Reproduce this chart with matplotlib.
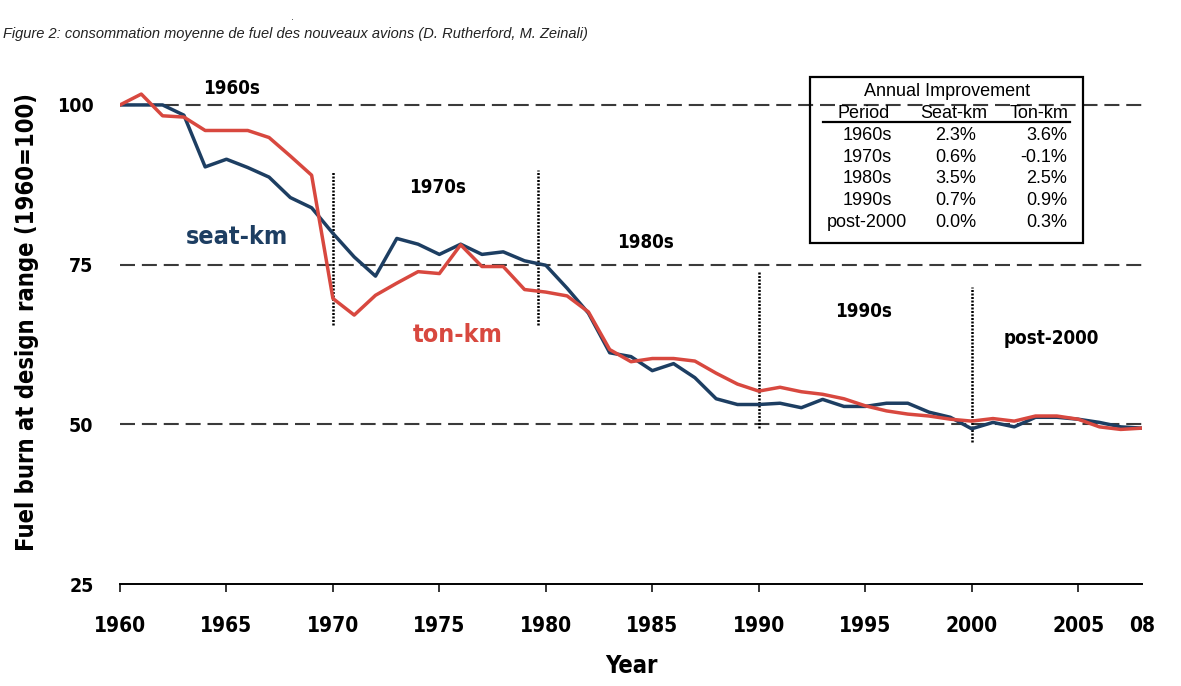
import numpy as np
import matplotlib.pyplot as plt
from matplotlib.patches import Rectangle

# Données (indice 1960 = 100)
years = list(range(1960, 2009))
seat_km = [100.0, 100.0, 100.0, 98.4, 90.3, 91.5, 90.2, 88.7, 85.5, 83.9,
           79.9, 76.2, 73.2, 79.1, 78.2, 76.6, 78.2, 76.6, 77.0, 75.6,
           74.9, 71.3, 67.4, 61.2, 60.6, 58.4, 59.5, 57.3, 54.0, 53.1,
           53.1, 53.3, 52.6, 53.9, 52.8, 52.8, 53.3, 53.3, 51.9, 51.1,
           49.3, 50.3, 49.6, 51.1, 51.1, 50.8, 50.3, 49.6, 49.4]
ton_km = [100.0, 101.7, 98.3, 98.1, 96.0, 96.0, 96.0, 94.9, 92.0, 89.0,
          69.7, 67.1, 70.2, 72.1, 73.9, 73.6, 78.1, 74.7, 74.7, 71.1,
          70.7, 70.1, 67.6, 61.7, 59.8, 60.3, 60.3, 59.9, 58.0, 56.3,
          55.2, 55.8, 55.1, 54.7, 54.0, 52.9, 52.1, 51.6, 51.3, 50.8,
          50.5, 50.9, 50.5, 51.3, 51.3, 50.8, 49.6, 49.2, 49.4]

grid_levels = [50, 75, 100]
y_ticks = [25, 50, 75, 100]
x_ticks = [1960, 1965, 1970, 1975, 1980, 1985, 1990, 1995, 2000, 2005]

# séparateurs de décennies (x, bas, haut)
dividers = [(1970, 65.5, 89.5), (1979.65, 65.5, 89.8),
            (1990, 49.4, 74.0), (2000, 47.2, 71.5)]
decades = ["1960s", "1970s", "1980s", "1990s", "post-2000"]
decade_x = [1965.25, 1974.9, 1984.7, 1994.9, 2003.75]
decade_y = [102.5, 87.0, 78.4, 67.7, 63.5]

# tableau des améliorations annuelles
periods = ["1960s", "1970s", "1980s", "1990s", "post-2000"]
seat_rates = ["2.3%", "0.6%", "3.5%", "0.7%", "0.0%"]
ton_rates = ["3.6%", "-0.1%", "2.5%", "0.9%", "0.3%"]

navy = "#1d3e62"
red = "#d8483f"
bold_font = ["DejaVu Sans"]
plain_font = ["Liberation Sans", "DejaVu Sans"]
bold_kw = dict(family=bold_font, fontweight="bold", fontstretch="condensed")

W, H = 1181, 686
def fx(px):
    return px / W
def fy(py):
    return 1 - py / H

fig = plt.figure(figsize=(W / 100, H / 100), dpi=100)
ax = fig.add_axes([fx(120), fy(584), (1142 - 120) / W, (584 - 73) / H])

for lvl in grid_levels:
    ax.axhline(lvl, color="#3a3a3a", lw=1.5, dashes=(7.2, 3.3), zorder=1)

for x, lo, hi in dividers:
    ax.plot([x, x], [lo, hi], color="black", lw=1.8,
            linestyle=(0, (0.8, 0.6)), zorder=2)

ax.plot(years, seat_km, color=navy, lw=2.5, zorder=3)
ax.plot(years, ton_km, color=red, lw=2.5, zorder=4)

ax.set_xlim(1960, 2008)
ax.set_ylim(25, 105)

for spine in ["top", "right", "left"]:
    ax.spines[spine].set_visible(False)
ax.spines["bottom"].set_linewidth(1.4)

ax.set_yticks(y_ticks)
ax.tick_params(axis="y", length=0, pad=19)
ax.set_xticks(x_ticks)
ax.set_xticks([2008], labels=["08"], minor=True)
ax.tick_params(axis="x", which="major", length=6, width=1.1, pad=17)
ax.tick_params(axis="x", which="minor", length=0, pad=23)
for lab in ax.get_yticklabels():
    lab.update(bold_kw)
    lab.set_fontsize(14)
for lab in ax.get_xticklabels(which="both"):
    lab.update(bold_kw)
    lab.set_fontsize(15)

ax.set_ylabel("Fuel burn at design range (1960=100)", fontsize=17,
              va="center", **bold_kw)
ax.yaxis.set_label_coords(-0.091, 0.513)
ax.set_xlabel("Year", fontsize=17, va="center", **bold_kw)
ax.xaxis.set_label_coords(0.5, -0.16)

for name, x, y in zip(decades, decade_x, decade_y):
    ax.text(x, y, name, ha="center", va="center", fontsize=13.5, **bold_kw)

ax.text(1965.5, 79.3, "seat-km", ha="center", va="center", color=navy,
        fontsize=18, **bold_kw)
ax.text(1975.85, 64.0, "ton-km", ha="center", va="center", color=red,
        fontsize=18, **bold_kw)

# encadré
fig.patches.append(Rectangle((fx(810), fy(243)), (1083 - 810) / W,
                             (243 - 77) / H, transform=fig.transFigure,
                             fill=False, edgecolor="black", lw=1.6))
fig.text(fx(947), fy(92), "Annual Improvement", ha="center", va="center",
         family=plain_font, fontsize=13)
fig.text(fx(864), fy(114), "Period", ha="center", va="center",
         family=plain_font, fontsize=13)
fig.text(fx(954), fy(114), "Seat-km", ha="center", va="center",
         family=plain_font, fontsize=13)
fig.text(fx(1039), fy(114), "Ton-km", ha="center", va="center",
         family=plain_font, fontsize=13)
fig.add_artist(plt.Line2D([fx(823), fx(1070)], [fy(122), fy(122)],
                          transform=fig.transFigure, color="black", lw=1.6))
row_y = [135, 157, 179, 200, 222]
for p, s, t, y in zip(periods, seat_rates, ton_rates, row_y):
    fig.text(fx(867), fy(y), p, ha="center", va="center",
             family=plain_font, fontsize=13)
    fig.text(fx(956), fy(y), s, ha="center", va="center",
             family=plain_font, fontsize=13)
    fig.text(fx(1067), fy(y), t, ha="right", va="center",
             family=plain_font, fontsize=13)

fig.text(fx(3), fy(34), "Figure 2: consommation moyenne de fuel des nouveaux "
         "avions (D. Rutherford, M. Zeinali)", ha="left", va="center",
         family=plain_font, style="italic", fontsize=10.5, color="#222222")
fig.text(fx(292), fy(17), ".", ha="center", va="center", fontsize=7,
         color="#444444")

fig.savefig("out.png", dpi=100)
